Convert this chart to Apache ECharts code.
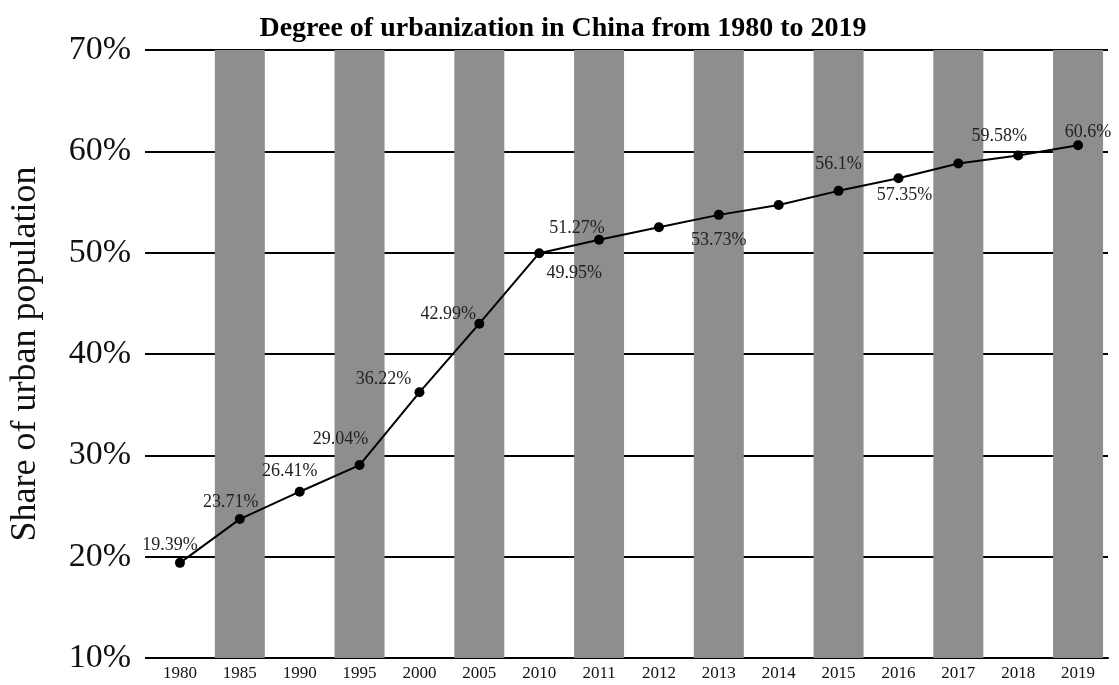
<!DOCTYPE html>
<html>
<head>
<meta charset="utf-8">
<script src="https://cdn.jsdelivr.net/npm/echarts@6/dist/echarts.min.js"></script>
<style>html,body{margin:0;padding:0;background:#fff}#c{width:1119px;height:685px}</style>
</head>
<body>
<div id="c"></div>
<script>
const years = ['1980','1985','1990','1995','2000','2005','2010','2011','2012','2013','2014','2015','2016','2017','2018','2019'];
const urbanShare = [19.39,23.71,26.41,29.04,36.22,42.99,49.95,51.27,52.5,53.73,54.7,56.1,57.35,58.8,59.58,60.6];
const labelledYears = ['1980','1985','1990','1995','2000','2005','2010','2011','2013','2015','2016','2018','2019'];
const yTicks = [10,20,30,40,50,60,70];
const title = 'Degree of urbanization in China from 1980 to 2019';
const yName = 'Share of urban population';

const yMin = yTicks[0], yMax = yTicks[yTicks.length-1];
const bandData = years.map((y,i)=> i%2===1 ? yMax : null);

// label offsets (style only)
const labelOffsets = {
  '1980':[-10,-18],'1985':[-9,-17],'1990':[-10,-20],'1995':[-19,-26],
  '2000':[-36,-13],'2005':[-31,-9],'2010':[35,20],'2011':[-22,-12],
  '2013':[0,25],'2015':[0,-27],'2016':[6,17],'2018':[-19,-19],'2019':[10,-13]
};
const serif = '"Liberation Serif","DejaVu Serif",serif';

const lineData = urbanShare.map((v,i)=>{
  const y = years[i];
  if (labelledYears.indexOf(y) < 0) return {value:v, label:{show:false}};
  const off = labelOffsets[y] || [0,-15];
  return {value:v, label:{show:true, position:'inside', offset:off,
    formatter: v + '%'}};
});

const chart = echarts.init(document.getElementById('c'));
chart.setOption({
  animation:false,
  backgroundColor:'#fff',
  title:{text:title,left:558,top:10,textAlign:'center',
    textStyle:{fontFamily:serif,fontSize:28,fontWeight:'bold',color:'#000'}},
  grid:{left:147,right:11,top:50,bottom:27},
  xAxis:{type:'category',data:years,boundaryGap:true,
    axisLine:{show:true,lineStyle:{color:'#000',width:2}},
    axisTick:{show:false},
    axisLabel:{fontFamily:serif,fontSize:17,color:'#111',margin:7},
    splitLine:{show:false}},
  yAxis:{type:'value',min:yMin,max:yMax,interval:10,
    name:yName,nameLocation:'middle',nameGap:106,nameRotate:90,
    nameTextStyle:{fontFamily:serif,fontSize:36,color:'#111'},
    axisLine:{show:false},
    axisTick:{show:true,length:5,lineStyle:{color:'#000',width:2}},
    axisLabel:{fontFamily:serif,fontSize:34,color:'#111',margin:19,formatter:'{value}%'},
    splitLine:{show:true,lineStyle:{color:'#000',width:2}}},
  series:[
    {type:'bar',data:bandData,barWidth:50,silent:true,z:1,
      itemStyle:{color:'#8e8e8e'}},
    {type:'line',data:lineData,z:5,symbol:'circle',symbolSize:10,
      lineStyle:{color:'#000',width:2},itemStyle:{color:'#000'},
      label:{fontFamily:serif,fontSize:18,color:'#222'}}
  ]
});
</script>
</body>
</html>
